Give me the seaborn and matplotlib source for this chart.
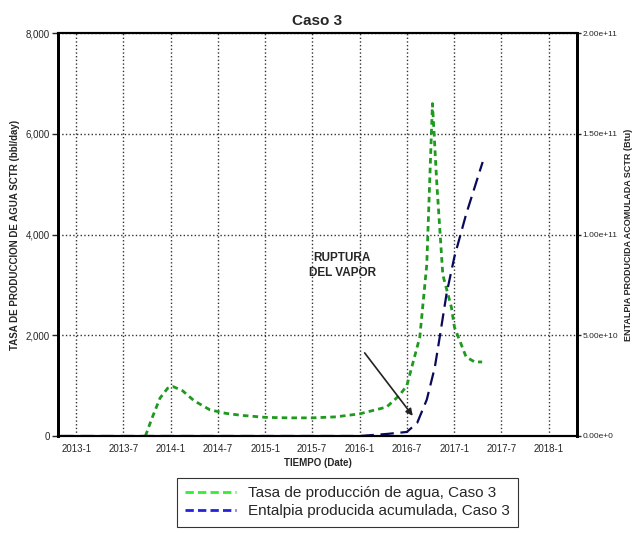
import pandas as pd
import numpy as np
import matplotlib
matplotlib.use("Agg")
import matplotlib.pyplot as plt
from matplotlib.lines import Line2D
import seaborn as sns

# Tasa de produccion de agua (bbl/day)
fechas_agua = ["2013-09-25", "2013-10-20", "2013-11-20", "2013-12-20", "2014-01-10",
               "2014-02-15", "2014-04-01", "2014-06-01", "2014-08-01", "2014-10-01",
               "2015-01-01", "2015-04-01", "2015-07-01", "2015-10-01", "2016-01-01",
               "2016-04-14", "2016-06-03", "2016-07-01", "2016-08-20", "2016-09-16",
               "2016-10-08", "2016-10-25", "2016-11-17", "2016-12-20", "2017-01-01",
               "2017-02-15", "2017-03-20", "2017-04-18"]
agua = [0, 350, 750, 950, 980,
        900, 700, 520, 450, 410,
        370, 360, 360, 380, 440,
        575, 810, 1000, 1960, 3400,
        6600, 5000, 3200, 2560, 2160,
        1570, 1470, 1470]

# Entalpia producida acumulada (Btu)
fechas_entalpia = ["2012-11-01", "2014-01-01", "2015-01-01", "2016-01-01", "2016-04-14",
                   "2016-07-01", "2016-08-10", "2016-09-16", "2016-10-17", "2016-11-05",
                   "2016-12-02", "2017-01-01", "2017-02-15", "2017-04-20"]
entalpia = [0, 0, 0, 0, 0.1e10,
            0.2e10, 0.65e10, 1.8e10, 3.4e10, 4.9e10,
            7.1e10, 8.9e10, 1.1e11, 1.36e11]

df_agua = pd.DataFrame({"Fecha": pd.to_datetime(fechas_agua), "Valor": agua})
df_ent = pd.DataFrame({"Fecha": pd.to_datetime(fechas_entalpia), "Valor": entalpia})

sns.set_style("white")
plt.rcParams["font.family"] = ["Liberation Sans", "DejaVu Sans"]

fig = plt.figure(figsize=(6.37, 5.33), dpi=100)
ax = fig.add_axes([0.091, 0.182, 0.815, 0.756])
ax2 = ax.twinx()

sns.lineplot(data=df_agua, x="Fecha", y="Valor", ax=ax, color="#1f9a1f",
             linewidth=2, linestyle=(0, (2, 1.5)))
sns.lineplot(data=df_ent, x="Fecha", y="Valor", ax=ax2, color="#0a0a5a",
             linewidth=1.6, linestyle=(0, (6, 3)))

ax.set_xlim(pd.Timestamp("2012-10-22"), pd.Timestamp("2018-04-20"))
ax.set_ylim(0, 8000)
ax2.set_ylim(0, 2e11)

ticks = pd.date_range("2013-01-01", "2018-01-01", freq="6MS")
ax.set_xticks(ticks)
ax.set_xticklabels([f"{t.year}-{t.month}" for t in ticks], fontsize=7)
ax.set_yticks([0, 2000, 4000, 6000, 8000])
ax.set_yticklabels(["0", "2,000", "4,000", "6,000", "8,000"], fontsize=7)
ax2.set_yticks([0, 5e10, 1e11, 1.5e11, 2e11])
ax2.set_yticklabels(["0.00e+0", "5.00e+10", "1.00e+11", "1.50e+11", "2.00e+11"], fontsize=6)

ax.grid(True, color="#333333", linestyle=":", linewidth=1)
ax.tick_params(axis="both", length=4, width=1, direction="out", pad=2)
ax2.tick_params(axis="y", length=3, width=1, direction="out", pad=1)
for a in (ax, ax2):
    for s in a.spines.values():
        s.set_color("black")
    a.spines["left"].set_linewidth(2)
    a.spines["right"].set_linewidth(2)
    a.spines["top"].set_linewidth(1.5)
    a.spines["bottom"].set_linewidth(1.5)

ax.set_xlabel("TIEMPO (Date)", fontsize=7, fontweight="bold", labelpad=3)
ax.set_ylabel("TASA DE PRODUCCION DE AGUA SCTR (bbl/day)", fontsize=7, fontweight="bold", labelpad=4)
ax2.set_ylabel("ENTALPIA PRODUCIDA ACOMULADA SCTR (Btu)", fontsize=6.5, fontweight="bold")
ax2.yaxis.set_label_coords(1.091, 0.5)
ax.set_title("Caso 3", fontsize=11, fontweight="bold", pad=6)

ax.text(pd.Timestamp("2015-10-25"), 3390, "RUPTURA\nDEL VAPOR", fontsize=8.5,
        fontweight="bold", ha="center", va="center", linespacing=1.3)
ax.annotate("", xy=(pd.Timestamp("2016-07-24"), 400),
            xytext=(pd.Timestamp("2016-01-20"), 1650),
            arrowprops=dict(arrowstyle="-|>", color="#222222", lw=1.2,
                            shrinkA=0, shrinkB=0))

handles = [Line2D([], [], color="#33ee33", linewidth=2, linestyle=(0, (3, 1.5))),
           Line2D([], [], color="#2222dd", linewidth=2, linestyle=(0, (3, 1.5)))]
leg = fig.legend(handles, ["Tasa de producción de agua, Caso 3",
                           "Entalpia producida acumulada, Caso 3"],
                 loc="lower left", bbox_to_anchor=(0.278, 0.012), fontsize=11,
                 frameon=True, fancybox=False, handlelength=3.3, handletextpad=0.8,
                 borderpad=0.55, labelspacing=0.25, borderaxespad=0)
leg.get_frame().set_edgecolor("black")
leg.get_frame().set_linewidth(0.8)

fig.savefig("out.png", dpi=100)
